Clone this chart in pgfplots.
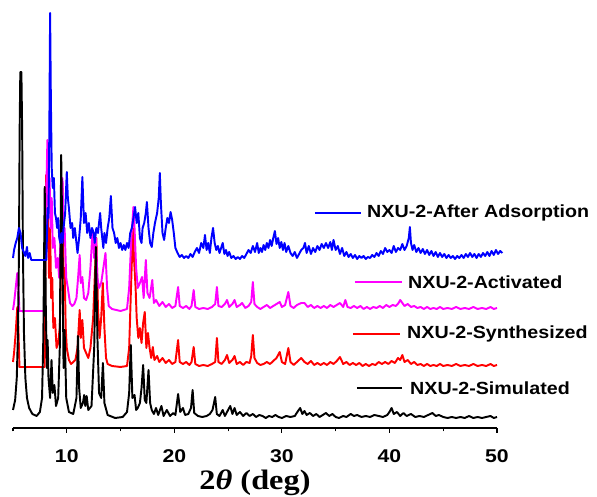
\documentclass[border=0pt]{standalone}
\usepackage{fontspec}
\usepackage{graphicx}
\usepackage{pgfplots}
\pgfplotsset{compat=1.18}
\setmainfont{Liberation Serif}
\newfontfamily\arialfont{Liberation Sans}
\definecolor{clrSim}{HTML}{000000}
\definecolor{clrSyn}{HTML}{FF0000}
\definecolor{clrAct}{HTML}{FF00FF}
\definecolor{clrAds}{HTML}{0000FF}
\newcommand{\wide}[1]{\scalebox{1.15}[1]{#1}}
\newcommand{\lbl}[1]{\scalebox{1.12}[1]{#1}}

\begin{document}
\begin{tikzpicture}
\useasboundingbox (-0.26,-1.38) rectangle (11.68,8.56);
\begin{axis}[
  scale only axis,
  width=9.68cm, height=8.56cm,
  xmin=5, xmax=50, ymin=0, ymax=428,
  clip=false,
  axis x line*=bottom,
  axis y line=none,
  ytick=\empty,
  xtick={10,20,30,40,50},
  xticklabels={\wide{10},\wide{20},\wide{30},\wide{40},\wide{50}},
  minor xtick={5,15,25,35,45},
  tick align=outside,
  major tick length=0.1cm,
  minor tick length=0.07cm,
  every tick/.style={black, line width=0.6pt},
  axis line style={black, line width=0.6pt},
  xticklabel style={font=\arialfont\bfseries\fontsize{10.5}{12}\selectfont, yshift=-0.2cm},
  xlabel={\wide{\bfseries 2\textit{θ} (deg)}},
  xlabel style={font=\fontsize{16}{19}\selectfont, at={(rel axis cs:0.5,0)}, anchor=center, yshift=-1.1cm},
  every axis plot/.append style={line width=1.1pt, line join=round, mark=none},
]
% NXU-2-Synthesized
\addplot[clrSyn] coordinates {
(5.0,66)(5.1,75)(5.25,95)(5.4,121)(5.5,100)(5.6,61)(7.95,61)(8.0,150)(8.08,253)(8.15,180)(8.25,220)(8.35,150)(8.45,200)(8.55,130)(8.65,150)(8.75,100)(8.9,110)(9.05,80)(9.2,85)(9.35,100)(9.5,180)(9.6,245)(9.7,150)(9.8,160)(9.9,100)(10.0,80)(10.2,68)(10.4,64)(10.6,66)(10.8,68)(11.0,80)(11.2,118)(11.3,90)(11.45,108)(11.6,80)(11.8,75)(12.0,70)(12.2,80)(12.45,110)(12.6,150)(12.75,190)(12.9,120)(13.05,90)(13.2,110)(13.35,145)(13.5,100)(13.65,70)(13.8,64)(14.2,62)(15.0,61)(15.6,62)(15.8,80)(16.0,150)(16.15,200)(16.25,170)(16.4,140)(16.5,110)(16.65,90)(16.8,100)(16.95,85)(17.1,105)(17.25,116)(17.4,80)(17.55,95)(17.7,80)(17.85,70)(18.0,81)(18.15,68)(18.4,72)(18.6,66)(18.9,70)(19.2,65)(19.5,68)(19.8,64)(20.1,66)(20.35,88)(20.5,66)(20.8,64)(21.1,66)(21.4,63)(21.6,66)(21.8,81)(21.95,64)(22.3,62)(22.7,63)(23.1,62)(23.5,64)(23.8,66)(23.96,90)(24.1,66)(24.4,64)(24.7,68)(24.9,73)(25.1,65)(25.4,68)(25.6,72)(25.8,64)(26.1,66)(26.4,63)(26.7,66)(27.0,65)(27.15,72)(27.3,93)(27.45,70)(27.7,65)(28.0,63)(28.3,64)(28.6,66)(28.9,64)(29.2,67)(29.5,70)(29.8,76)(30.0,66)(30.3,64)(30.6,80)(30.8,66)(31.1,63)(31.4,66)(31.8,70)(32.1,66)(32.4,64)(32.7,67)(33.0,63)(33.3,65)(33.6,63)(33.9,65)(34.2,63)(34.5,66)(34.8,64)(35.1,67)(35.4,71)(35.7,64)(36.0,66)(36.3,63)(36.6,65)(36.9,63)(37.2,65)(37.5,62)(37.8,64)(38.1,62)(38.4,64)(38.7,63)(39.0,66)(39.3,64)(39.6,66)(39.9,64)(40.2,67)(40.5,65)(40.8,70)(41.0,68)(41.2,73)(41.4,66)(41.7,68)(42.0,64)(42.3,66)(42.6,63)(42.9,64)(43.2,62)(43.5,64)(43.8,62)(44.1,63)(44.4,62)(44.7,64)(45.0,62)(45.4,63)(45.8,62)(46.2,64)(46.6,62)(47.0,63)(47.4,62)(47.8,64)(48.2,62)(48.6,63)(49.0,62)(49.4,64)(49.7,62)(50.0,63)
};
% NXU-2-Activated
\addplot[clrAct] coordinates {
(5.0,118)(5.1,125)(5.25,140)(5.4,155)(5.5,140)(5.6,117)(7.95,117)(8.0,180)(8.1,240)(8.2,288)(8.3,220)(8.4,250)(8.5,200)(8.6,230)(8.7,180)(8.85,190)(9.0,160)(9.15,170)(9.3,150)(9.45,200)(9.6,250)(9.7,190)(9.8,200)(9.95,150)(10.1,140)(10.3,125)(10.5,122)(10.7,124)(10.9,130)(11.05,150)(11.2,173)(11.3,145)(11.45,151)(11.6,130)(11.8,128)(12.0,135)(12.2,160)(12.4,198)(12.55,170)(12.7,190)(12.85,150)(13.0,140)(13.2,145)(13.4,160)(13.6,175)(13.75,140)(13.9,122)(14.2,119)(15.0,117)(15.6,119)(15.8,140)(16.0,190)(16.2,221)(16.3,200)(16.45,160)(16.6,140)(16.8,145)(17.0,151)(17.15,130)(17.35,168)(17.5,135)(17.7,130)(17.95,148)(18.1,125)(18.3,128)(18.6,122)(18.9,126)(19.2,121)(19.5,124)(19.8,120)(20.1,122)(20.35,141)(20.5,122)(20.8,120)(21.1,122)(21.4,119)(21.6,122)(21.8,138)(21.95,121)(22.3,119)(22.7,120)(23.1,119)(23.5,121)(23.8,124)(23.96,141)(24.1,122)(24.4,121)(24.7,124)(24.9,128)(25.1,121)(25.4,124)(25.6,128)(25.8,121)(26.1,123)(26.3,125)(26.6,120)(26.9,122)(27.15,126)(27.3,146)(27.45,124)(27.7,121)(28.0,119)(28.3,121)(28.6,123)(28.9,120)(29.2,122)(29.5,124)(29.8,126)(30.0,121)(30.3,123)(30.6,136)(30.8,122)(31.1,120)(31.4,123)(31.8,125)(32.1,125)(32.4,121)(32.7,123)(33.0,120)(33.3,122)(33.6,120)(33.9,122)(34.2,120)(34.5,123)(34.8,121)(35.1,123)(35.4,125)(35.7,121)(35.9,128)(36.1,121)(36.4,120)(36.7,122)(37.0,120)(37.3,122)(37.6,119)(37.9,121)(38.2,119)(38.5,121)(38.8,120)(39.1,122)(39.4,120)(39.7,123)(40.0,121)(40.3,123)(40.6,122)(40.85,125)(41.0,128)(41.2,125)(41.4,122)(41.7,124)(42.0,121)(42.3,122)(42.6,120)(42.9,121)(43.2,119)(43.5,121)(43.8,119)(44.1,120)(44.4,119)(44.7,121)(45.0,119)(45.4,120)(45.8,119)(46.2,121)(46.6,119)(47.0,120)(47.4,119)(47.8,121)(48.2,119)(48.6,120)(49.0,119)(49.4,121)(49.7,119)(50.0,120)
};
% NXU-2-Simulated
\addplot[clrSim] coordinates {
(5.0,18)(5.2,28)(5.35,50)(5.45,90)(5.55,170)(5.62,300)(5.68,356)(5.78,356)(5.85,300)(5.92,180)(6.02,95)(6.15,50)(6.3,30)(6.5,20)(6.8,14)(7.2,12)(7.5,16)(7.7,30)(7.82,90)(7.95,241)(8.05,120)(8.15,60)(8.22,88)(8.3,50)(8.45,30)(8.58,68)(8.7,35)(8.85,43)(9.0,22)(9.2,30)(9.35,80)(9.48,273)(9.58,200)(9.7,60)(9.8,98)(9.95,30)(10.2,16)(10.6,14)(10.9,30)(11.04,92)(11.15,40)(11.3,20)(11.5,25)(11.62,33)(11.72,22)(11.85,32)(12.0,18)(12.3,22)(12.55,80)(12.7,181)(12.85,90)(13.0,35)(13.2,30)(13.36,65)(13.5,25)(13.8,13)(14.5,10)(15.2,11)(15.6,16)(15.8,35)(15.95,83)(16.1,30)(16.3,33)(16.45,18)(16.6,20)(16.8,25)(16.95,40)(17.1,63)(17.25,28)(17.4,25)(17.6,58)(17.75,25)(17.9,18)(18.1,14)(18.3,20)(18.5,13)(18.8,22)(19.0,12)(19.3,18)(19.6,12)(19.9,15)(20.1,13)(20.35,34)(20.55,16)(20.8,20)(21.0,13)(21.3,14)(21.55,20)(21.7,38)(21.85,15)(22.2,12)(22.6,11)(23.0,12)(23.3,14)(23.55,18)(23.8,31)(23.95,14)(24.2,12)(24.5,18)(24.7,12)(24.9,16)(25.2,22)(25.4,14)(25.6,20)(25.8,13)(26.1,16)(26.4,12)(26.7,15)(27.0,12)(27.3,14)(27.6,11)(27.9,13)(28.2,12)(28.5,10)(28.8,12)(29.1,11)(29.4,13)(29.7,11)(30.0,10)(30.4,12)(30.8,11)(31.2,12)(31.5,17)(31.7,20)(31.9,14)(32.1,17)(32.3,13)(32.6,15)(32.9,12)(33.2,14)(33.5,11)(33.8,13)(34.1,15)(34.4,12)(34.7,14)(35.0,11)(35.3,10)(35.7,12)(36.0,11)(36.4,14)(36.7,12)(37.0,13)(37.4,11)(37.8,12)(38.2,11)(38.6,13)(39.0,12)(39.4,11)(39.8,13)(40.0,16)(40.2,20)(40.4,14)(40.7,16)(41.0,12)(41.3,15)(41.6,12)(42.0,14)(42.4,11)(42.8,12)(43.2,11)(43.6,13)(44.0,15)(44.3,12)(44.6,13)(45.0,11)(45.4,10)(45.8,11)(46.2,10)(46.6,11)(47.0,10)(47.4,12)(47.8,10)(48.2,11)(48.6,10)(49.0,11)(49.4,12)(49.7,10)(50.0,11)
};
% NXU-2-After Adsorption
\addplot[clrAds] coordinates {
(5.0,170)(5.1,178)(5.25,185)(5.4,190)(5.55,200)(5.7,195)(5.85,180)(6.0,176)(6.15,172)(6.3,181)(6.4,170)(6.55,175)(6.7,168)(8.1,168)(8.15,190)(8.22,220)(8.3,210)(8.38,300)(8.45,415)(8.52,330)(8.6,260)(8.7,240)(8.8,250)(8.9,215)(9.0,210)(9.1,200)(9.2,210)(9.3,190)(9.4,185)(9.5,195)(9.6,185)(9.7,200)(9.85,215)(10.0,256)(10.1,230)(10.2,220)(10.35,200)(10.5,205)(10.6,190)(10.75,200)(10.9,185)(11.0,175)(11.15,190)(11.3,210)(11.45,251)(11.6,205)(11.75,215)(11.9,195)(12.05,205)(12.2,190)(12.35,200)(12.5,195)(12.6,185)(12.75,200)(12.9,195)(13.0,205)(13.1,215)(13.2,200)(13.3,190)(13.4,180)(13.5,195)(13.65,185)(13.8,200)(13.95,210)(14.1,232)(14.25,200)(14.4,195)(14.55,185)(14.7,190)(14.85,180)(15.0,185)(15.15,178)(15.3,183)(15.45,178)(15.6,185)(15.75,180)(15.9,195)(16.05,200)(16.2,210)(16.35,221)(16.5,205)(16.65,215)(16.8,190)(16.95,185)(17.05,200)(17.2,205)(17.35,215)(17.45,226)(17.6,200)(17.75,185)(17.9,181)(18.05,195)(18.2,205)(18.4,215)(18.55,230)(18.65,255)(18.75,225)(18.9,195)(19.05,188)(19.2,200)(19.35,210)(19.5,205)(19.65,216)(19.8,208)(19.95,195)(20.1,180)(20.3,175)(20.5,171)(20.7,173)(20.9,170)(21.1,172)(21.3,170)(21.5,174)(21.7,171)(21.9,176)(22.1,180)(22.3,175)(22.5,185)(22.7,180)(22.85,193)(23.0,178)(23.15,185)(23.3,175)(23.45,190)(23.6,200)(23.75,185)(23.9,178)(24.05,182)(24.2,175)(24.35,180)(24.5,185)(24.65,174)(24.8,178)(24.95,172)(25.1,176)(25.3,170)(25.5,172)(25.7,169)(25.9,171)(26.1,169)(26.3,172)(26.5,170)(26.7,174)(26.9,178)(27.1,175)(27.3,182)(27.5,176)(27.7,185)(27.85,175)(28.0,180)(28.15,176)(28.3,183)(28.45,178)(28.6,185)(28.75,180)(28.9,188)(29.05,182)(29.2,190)(29.35,197)(29.5,184)(29.65,190)(29.8,180)(29.95,186)(30.1,178)(30.25,185)(30.4,176)(30.6,182)(30.8,175)(31.0,172)(31.2,176)(31.4,170)(31.6,174)(31.8,178)(32.0,180)(32.15,185)(32.3,175)(32.5,182)(32.7,174)(32.9,180)(33.1,176)(33.3,182)(33.5,178)(33.7,184)(33.9,180)(34.1,185)(34.3,180)(34.5,186)(34.65,178)(34.8,188)(35.0,178)(35.2,182)(35.4,174)(35.6,180)(35.8,172)(36.0,176)(36.2,171)(36.4,174)(36.6,170)(36.8,173)(37.0,169)(37.2,172)(37.4,170)(37.6,172)(37.8,169)(38.0,171)(38.2,170)(38.4,173)(38.6,171)(38.8,175)(39.0,172)(39.2,177)(39.4,174)(39.6,180)(39.8,176)(40.0,178)(40.2,175)(40.4,182)(40.6,176)(40.8,180)(41.0,178)(41.2,184)(41.4,178)(41.6,182)(41.8,190)(41.9,201)(42.0,185)(42.15,178)(42.3,183)(42.5,176)(42.7,180)(42.9,175)(43.1,179)(43.3,174)(43.5,178)(43.7,173)(43.9,177)(44.1,172)(44.3,176)(44.5,171)(44.7,175)(44.9,171)(45.1,174)(45.3,170)(45.5,173)(45.7,170)(45.9,172)(46.1,169)(46.3,172)(46.5,170)(46.7,173)(46.9,170)(47.1,174)(47.3,171)(47.5,175)(47.7,171)(47.9,174)(48.1,170)(48.3,174)(48.5,171)(48.7,175)(48.9,172)(49.1,176)(49.3,172)(49.5,177)(49.7,173)(49.9,178)(50.1,174)(50.3,177)(50.5,175)
};
% labels beside the traces
\begin{scope}[every node/.style={anchor=west, inner sep=0pt,
    font=\arialfont\bfseries\fontsize{10}{12}\selectfont}]
\draw[clrAds, line width=0.9pt] (axis cs:33.07,215) -- (axis cs:37.34,215);
\node at (axis cs:37.9,215) {\lbl{NXU-2-After Adsorption}};
\draw[clrAct, line width=0.9pt] (axis cs:36.78,146) -- (axis cs:41.15,146);
\node at (axis cs:41.71,146) {\lbl{NXU-2-Activated}};
\draw[clrSyn, line width=0.9pt] (axis cs:36.6,94) -- (axis cs:40.97,94);
\node at (axis cs:41.62,94) {\lbl{NXU-2-Synthesized}};
\draw[clrSim, line width=0.9pt] (axis cs:36.97,40) -- (axis cs:41.15,40);
\node at (axis cs:41.9,40) {\lbl{NXU-2-Simulated}};
\end{scope}
\end{axis}
\end{tikzpicture}
\end{document}
